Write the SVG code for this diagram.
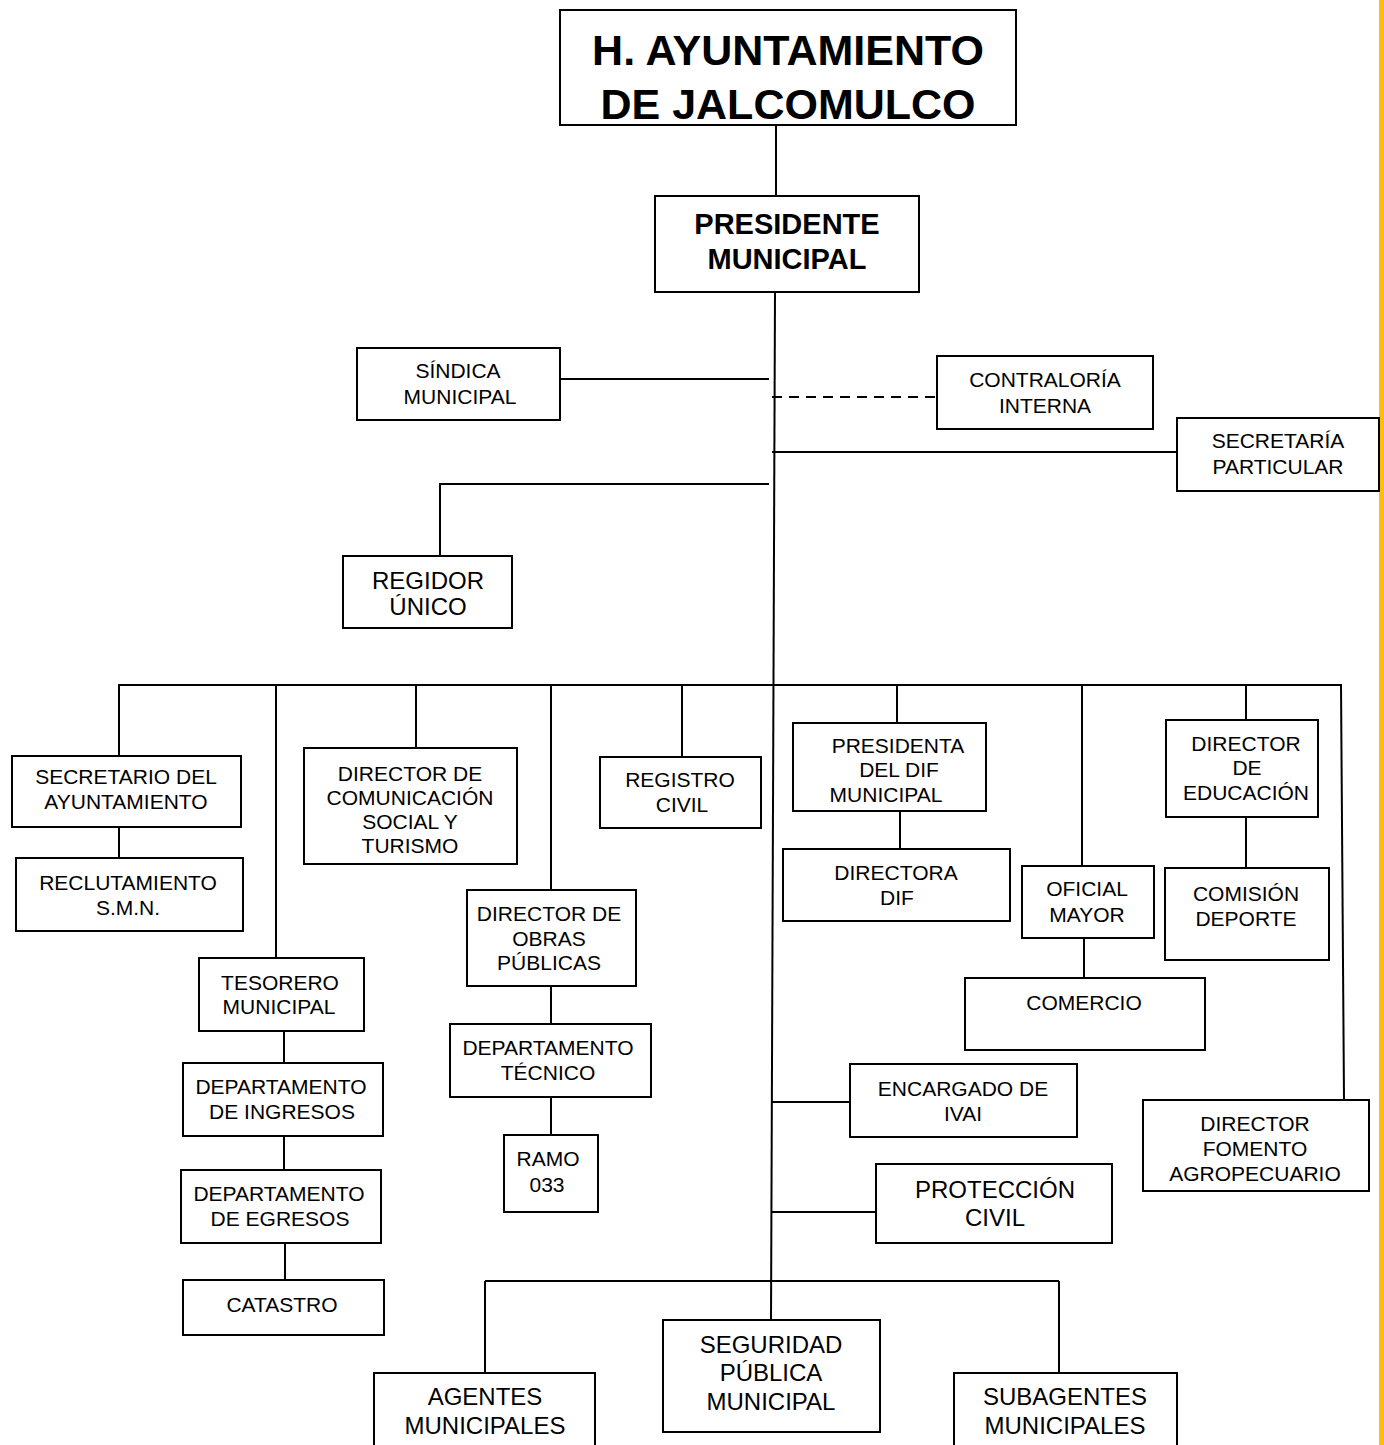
<svg xmlns="http://www.w3.org/2000/svg" width="1384" height="1445" viewBox="0 0 1384 1445">
<style>
.box{fill:#fff;stroke:#000;stroke-width:2}
.t{font-family:"Liberation Sans",Arial,sans-serif;font-size:21px;fill:#000;text-anchor:middle}
.tl{font-family:"Liberation Sans",Arial,sans-serif;font-size:24px;fill:#000;text-anchor:middle}
.tb{font-family:"Liberation Sans",Arial,sans-serif;font-weight:bold;fill:#000;text-anchor:middle}
.c{stroke:#000;stroke-width:2;fill:none}
.d{stroke:#000;stroke-width:2;fill:none;stroke-dasharray:10 7}
</style>
<rect x="0" y="0" width="1384" height="1445" fill="#fff"/>
<rect x="1379" y="0" width="5" height="1445" fill="#FFC000"/>
<g id="connectors">
<line class="c" x1="776" y1="125" x2="776" y2="196"/>
<line class="c" x1="775" y1="292" x2="771" y2="1320"/>
<line class="c" x1="560" y1="379" x2="769" y2="379"/>
<line class="d" x1="772" y1="397" x2="937" y2="397"/>
<line class="c" x1="772" y1="452" x2="1177" y2="452"/>
<polyline class="c" points="769,484 440,484 440,556"/>
<line class="c" x1="118" y1="685" x2="1342" y2="685"/>
<line class="c" x1="119" y1="685" x2="119" y2="756"/>
<line class="c" x1="119" y1="827" x2="119" y2="858"/>
<line class="c" x1="276" y1="685" x2="276" y2="958"/>
<line class="c" x1="284" y1="1031" x2="284" y2="1063"/>
<line class="c" x1="284" y1="1136" x2="284" y2="1170"/>
<line class="c" x1="285" y1="1243" x2="285" y2="1280"/>
<line class="c" x1="416" y1="685" x2="416" y2="748"/>
<line class="c" x1="551" y1="685" x2="551" y2="890"/>
<line class="c" x1="551" y1="986" x2="551" y2="1024"/>
<line class="c" x1="551" y1="1097" x2="551" y2="1135"/>
<line class="c" x1="682" y1="685" x2="682" y2="757"/>
<line class="c" x1="897" y1="685" x2="897" y2="723"/>
<line class="c" x1="900" y1="811" x2="900" y2="849"/>
<line class="c" x1="1082" y1="685" x2="1082" y2="866"/>
<line class="c" x1="1084" y1="938" x2="1084" y2="978"/>
<line class="c" x1="1246" y1="685" x2="1246" y2="720"/>
<line class="c" x1="1246" y1="817" x2="1246" y2="868"/>
<line class="c" x1="1341" y1="685" x2="1344" y2="1100"/>
<line class="c" x1="772" y1="1102" x2="850" y2="1102"/>
<line class="c" x1="771" y1="1212" x2="878" y2="1212"/>
<line class="c" x1="485" y1="1281" x2="1059" y2="1281"/>
<line class="c" x1="485" y1="1281" x2="485" y2="1373"/>
<line class="c" x1="1059" y1="1281" x2="1059" y2="1373"/>
</g>
<g id="ayuntamiento">
<rect class="box" x="560" y="10" width="456" height="115"/>
<text class="tb" x="788" y="65" font-size="43">H. AYUNTAMIENTO</text>
<text class="tb" x="788" y="119" font-size="43">DE JALCOMULCO</text>
</g>
<g id="presidente">
<rect class="box" x="655" y="196" width="264" height="96"/>
<text class="tb" x="787" y="234" font-size="29">PRESIDENTE</text>
<text class="tb" x="787" y="269" font-size="29">MUNICIPAL</text>
</g>
<g id="sindica">
<rect class="box" x="357" y="348" width="203" height="72"/>
<text class="t" x="458" y="378">SÍNDICA</text>
<text class="t" x="460" y="404">MUNICIPAL</text>
</g>
<g id="contraloria">
<rect class="box" x="937" y="356" width="216" height="73"/>
<text class="t" x="1045" y="387">CONTRALORÍA</text>
<text class="t" x="1045" y="413">INTERNA</text>
</g>
<g id="secretaria-particular">
<rect class="box" x="1177" y="418" width="202" height="73"/>
<text class="t" x="1278" y="448">SECRETARÍA</text>
<text class="t" x="1278" y="474">PARTICULAR</text>
</g>
<g id="regidor">
<rect class="box" x="343" y="556" width="169" height="72"/>
<text class="tl" x="428" y="589">REGIDOR</text>
<text class="tl" x="428" y="615">ÚNICO</text>
</g>
<g id="secretario">
<rect class="box" x="12" y="756" width="229" height="71"/>
<text class="t" x="126" y="784">SECRETARIO DEL</text>
<text class="t" x="126" y="809">AYUNTAMIENTO</text>
</g>
<g id="reclutamiento">
<rect class="box" x="16" y="858" width="227" height="73"/>
<text class="t" x="128" y="890">RECLUTAMIENTO</text>
<text class="t" x="128" y="915">S.M.N.</text>
</g>
<g id="comunicacion">
<rect class="box" x="304" y="748" width="213" height="116"/>
<text class="t" x="410" y="781">DIRECTOR DE</text>
<text class="t" x="410" y="805">COMUNICACIÓN</text>
<text class="t" x="410" y="829">SOCIAL Y</text>
<text class="t" x="410" y="853">TURISMO</text>
</g>
<g id="registro">
<rect class="box" x="600" y="757" width="161" height="71"/>
<text class="t" x="680" y="787">REGISTRO</text>
<text class="t" x="682" y="812">CIVIL</text>
</g>
<g id="presidenta-dif">
<rect class="box" x="793" y="723" width="193" height="88"/>
<text class="t" x="898" y="753">PRESIDENTA</text>
<text class="t" x="899" y="777">DEL DIF</text>
<text class="t" x="886" y="802">MUNICIPAL</text>
</g>
<g id="directora-dif">
<rect class="box" x="783" y="849" width="227" height="72"/>
<text class="t" x="896" y="880">DIRECTORA</text>
<text class="t" x="897" y="905">DIF</text>
</g>
<g id="oficial-mayor">
<rect class="box" x="1022" y="866" width="132" height="72"/>
<text class="t" x="1087" y="896">OFICIAL</text>
<text class="t" x="1087" y="922">MAYOR</text>
</g>
<g id="comercio">
<rect class="box" x="965" y="978" width="240" height="72"/>
<text class="t" x="1084" y="1010">COMERCIO</text>
</g>
<g id="educacion">
<rect class="box" x="1166" y="720" width="152" height="97"/>
<text class="t" x="1246" y="751">DIRECTOR</text>
<text class="t" x="1247" y="775">DE</text>
<text class="t" x="1246" y="800">EDUCACIÓN</text>
</g>
<g id="deporte">
<rect class="box" x="1165" y="868" width="164" height="92"/>
<text class="t" x="1246" y="901">COMISIÓN</text>
<text class="t" x="1246" y="926">DEPORTE</text>
</g>
<g id="fomento">
<rect class="box" x="1143" y="1100" width="226" height="91"/>
<text class="t" x="1255" y="1131">DIRECTOR</text>
<text class="t" x="1255" y="1156">FOMENTO</text>
<text class="t" x="1255" y="1181">AGROPECUARIO</text>
</g>
<g id="ivai">
<rect class="box" x="850" y="1064" width="227" height="73"/>
<text class="t" x="963" y="1096">ENCARGADO DE</text>
<text class="t" x="963" y="1121">IVAI</text>
</g>
<g id="proteccion">
<rect class="box" x="876" y="1164" width="236" height="79"/>
<text class="tl" x="995" y="1198">PROTECCIÓN</text>
<text class="tl" x="995" y="1226">CIVIL</text>
</g>
<g id="obras">
<rect class="box" x="467" y="890" width="169" height="96"/>
<text class="t" x="549" y="921">DIRECTOR DE</text>
<text class="t" x="549" y="946">OBRAS</text>
<text class="t" x="549" y="970">PÚBLICAS</text>
</g>
<g id="tecnico">
<rect class="box" x="450" y="1024" width="201" height="73"/>
<text class="t" x="548" y="1055">DEPARTAMENTO</text>
<text class="t" x="548" y="1080">TÉCNICO</text>
</g>
<g id="ramo">
<rect class="box" x="504" y="1135" width="94" height="77"/>
<text class="t" x="548" y="1166">RAMO</text>
<text class="t" x="547" y="1192">033</text>
</g>
<g id="tesorero">
<rect class="box" x="199" y="958" width="165" height="73"/>
<text class="t" x="280" y="990">TESORERO</text>
<text class="t" x="279" y="1014">MUNICIPAL</text>
</g>
<g id="ingresos">
<rect class="box" x="183" y="1063" width="200" height="73"/>
<text class="t" x="281" y="1094">DEPARTAMENTO</text>
<text class="t" x="282" y="1119">DE INGRESOS</text>
</g>
<g id="egresos">
<rect class="box" x="181" y="1170" width="200" height="73"/>
<text class="t" x="279" y="1201">DEPARTAMENTO</text>
<text class="t" x="280" y="1226">DE EGRESOS</text>
</g>
<g id="catastro">
<rect class="box" x="183" y="1280" width="201" height="55"/>
<text class="t" x="282" y="1312">CATASTRO</text>
</g>
<g id="agentes">
<rect class="box" x="374" y="1373" width="221" height="74"/>
<text class="tl" x="485" y="1405">AGENTES</text>
<text class="tl" x="485" y="1434">MUNICIPALES</text>
</g>
<g id="seguridad">
<rect class="box" x="663" y="1320" width="217" height="112"/>
<text class="tl" x="771" y="1353">SEGURIDAD</text>
<text class="tl" x="771" y="1381">PÚBLICA</text>
<text class="tl" x="771" y="1410">MUNICIPAL</text>
</g>
<g id="subagentes">
<rect class="box" x="954" y="1373" width="223" height="74"/>
<text class="tl" x="1065" y="1405">SUBAGENTES</text>
<text class="tl" x="1065" y="1434">MUNICIPALES</text>
</g>
</svg>
